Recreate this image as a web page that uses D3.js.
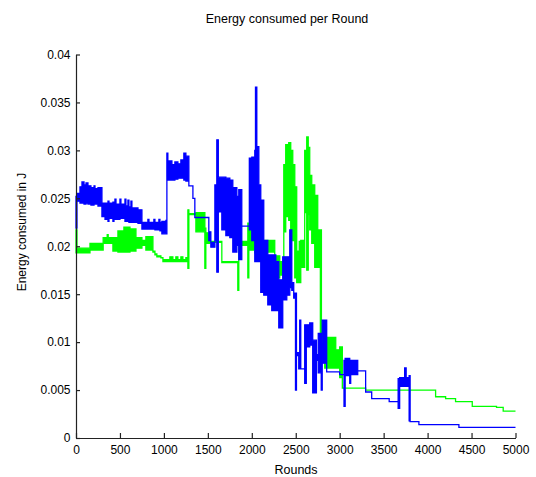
<!DOCTYPE html>
<html>
<head>
<meta charset="utf-8">
<script src="https://cdn.jsdelivr.net/npm/d3@7"></script>
<style>
  body { margin: 0; background: #fff; }
  text { font-family: "Liberation Sans", Arial, sans-serif; fill: #000; }
</style>
</head>
<body>
<svg id="chart" width="536" height="477"></svg>
<script>
// Per-round energy, sampled as [round, min, max] buckets (step-after).
const blueRounds = [0, 11, 45, 68, 91, 114, 136, 170, 205, 216, 250,
  295, 330, 364, 375, 420, 432, 443, 455, 500, 511, 557, 568, 591, 602, 625, 636, 705,
  750, 818, 830, 886, 898, 943, 955, 977, 1023,
  1034, 1045, 1091, 1125, 1159, 1193, 1227, 1250,
  1284, 1330, 1352, 1511, 1534, 1580, 1602, 1619, 1659, 1705, 1750, 1784,
  1830, 1852, 1886, 1972, 2000, 2034, 2042, 2057, 2080, 2102, 2136, 2182, 2227, 2273, 2307, 2352, 2398, 2432,
  2455, 2477, 2497, 2508, 2534, 2545, 2557, 2602, 2620, 2659, 2693, 2735, 2756, 2790, 2801, 2852, 3000, 3049,
  3062, 3114, 3125, 3205, 3295, 3364, 3563, 3665, 3682, 3739, 3756, 3790, 3801, 3901, 4356, 5000];
const blueHigh = [0.0252, 0.0255, 0.0262, 0.0267, 0.0264, 0.0266, 0.0263, 0.0261, 0.0263, 0.0260, 0.0261,
  0.0245, 0.0245, 0.0247, 0.0245, 0.0246, 0.0245, 0.0249, 0.0244, 0.0249, 0.0244, 0.0249, 0.0242, 0.0248,
  0.0241, 0.0247, 0.0240, 0.0238,
  0.0225, 0.0228, 0.0225, 0.0228, 0.0225, 0.0228, 0.0225, 0.0226, 0.0227,
  0.0297, 0.0289, 0.0285, 0.0288, 0.0286, 0.0290, 0.0297, 0.0294,
  0.0263, 0.0250, 0.0230, 0.0215, 0.0204, 0.0264, 0.0311,
  0.0272, 0.0272, 0.0271, 0.0269, 0.0261, 0.0252, 0.0259, 0.0221, 0.0292, 0.0293, 0.0300, 0.0366, 0.0304,
  0.0264, 0.0248, 0.0206, 0.0191, 0.0191, 0.0184, 0.0165, 0.0189, 0.0189, 0.0217, 0.0162, 0.0151, 0.0151,
  0.0089, 0.0072, 0.0123, 0.0072, 0.0118, 0.0118, 0.0120, 0.0102, 0.0087, 0.0109, 0.0099, 0.0123, 0.0069,
  0.0066, 0.0081, 0.0083, 0.0081, 0.0081, 0.0070, 0.0048, 0.0041, 0.0038, 0.0062, 0.0063, 0.0073, 0.0063,
  0.0065, 0.0017, 0.0014, 0.0011, 0.0011];
const blueLow = [0.0219, 0.0247, 0.0245, 0.0245, 0.0244, 0.0245, 0.0244, 0.0243, 0.0244, 0.0244, 0.0242,
  0.0231, 0.0228, 0.0226, 0.0229, 0.0226, 0.0228, 0.0228, 0.0228, 0.0229, 0.0229, 0.0226, 0.0226, 0.0226,
  0.0225, 0.0225, 0.0225, 0.0224,
  0.0218, 0.0218, 0.0218, 0.0218, 0.0217, 0.0217, 0.0216, 0.0213, 0.0213,
  0.0269, 0.0269, 0.0269, 0.0270, 0.0271, 0.0271, 0.0269, 0.0268,
  0.0263, 0.0250, 0.0230, 0.0206, 0.0199, 0.0206, 0.0173,
  0.0236, 0.0217, 0.0211, 0.0209, 0.0194, 0.0201, 0.0186, 0.0221, 0.0217, 0.0206, 0.0184, 0.0184, 0.0184,
  0.0184, 0.0152, 0.0149, 0.0139, 0.0133, 0.0133, 0.0115, 0.0144, 0.0149, 0.0157, 0.0154, 0.0146, 0.0050,
  0.0086, 0.0072, 0.0072, 0.0072, 0.0057, 0.0095, 0.0097, 0.0047, 0.0081, 0.0068, 0.0050, 0.0078, 0.0069,
  0.0066, 0.0033, 0.0065, 0.0057, 0.0066, 0.0070, 0.0048, 0.0041, 0.0038, 0.0031, 0.0054, 0.0054, 0.0054,
  0.0018, 0.0017, 0.0014, 0.0011, 0.0011];

const greenRounds = [0, 11, 159, 309, 355, 366, 420, 477, 545, 614, 682, 750, 795, 875, 898, 920, 966, 989, 1068,
  1102, 1136, 1159, 1193, 1216, 1250, 1273, 1284, 1364, 1466, 1477, 1523, 1659, 1841, 1852, 1955, 1966, 2034,
  2114, 2261, 2318, 2364, 2386, 2420, 2443, 2466, 2489, 2511, 2540, 2557, 2602, 2625, 2642, 2659, 2682, 2716,
  2750, 2780, 2792, 2830, 2955, 3000, 3030, 3295, 4091, 4205, 4318, 4508, 4784, 4860, 5000];
const greenHigh = [0.0217, 0.0198, 0.0203, 0.0209, 0.0212, 0.0209, 0.0209, 0.0216, 0.0220, 0.0218, 0.0209,
  0.0206, 0.0210, 0.0195, 0.0192, 0.0190, 0.0188, 0.0186, 0.0189, 0.0186, 0.0189, 0.0186, 0.0189, 0.0186,
  0.0188, 0.0238, 0.0234, 0.0235, 0.0219, 0.0214, 0.0205, 0.0184, 0.0184, 0.0205, 0.0224, 0.0224, 0.0214,
  0.0206, 0.0190, 0.0184, 0.0285, 0.0306, 0.0308, 0.0300, 0.0285, 0.0262, 0.0195, 0.0205, 0.0206, 0.0300,
  0.0314, 0.0303, 0.0274, 0.0264, 0.0253, 0.0217, 0.0217, 0.0118, 0.0105, 0.0092, 0.0095, 0.0052, 0.0050,
  0.0043, 0.0041, 0.0038, 0.0033, 0.0032, 0.0028, 0.0028];
const greenLow = [0.0193, 0.0193, 0.0196, 0.0203, 0.0203, 0.0203, 0.0195, 0.0194, 0.0194, 0.0195, 0.0198,
  0.0201, 0.0196, 0.0194, 0.0191, 0.0189, 0.0188, 0.0184, 0.0184, 0.0184, 0.0184, 0.0184, 0.0184, 0.0184,
  0.0184, 0.0177, 0.0233, 0.0215, 0.0177, 0.0203, 0.0204, 0.0183, 0.0154, 0.0201, 0.0167, 0.0196, 0.0193,
  0.0194, 0.0167, 0.0170, 0.0215, 0.0231, 0.0227, 0.0206, 0.0206, 0.0167, 0.0162, 0.0162, 0.0178, 0.0235,
  0.0175, 0.0233, 0.0217, 0.0203, 0.0178, 0.0178, 0.0092, 0.0092, 0.0073, 0.0073, 0.0063, 0.0052, 0.0050,
  0.0043, 0.0041, 0.0038, 0.0033, 0.0032, 0.0028, 0.0028];

const xTicks = [0, 500, 1000, 1500, 2000, 2500, 3000, 3500, 4000, 4500, 5000];
const yTicks = [0, 0.005, 0.01, 0.015, 0.02, 0.025, 0.03, 0.035, 0.04];
const yTickLabels = ["0", "0.005", "0.01", "0.015", "0.02", "0.025", "0.03", "0.035", "0.04"];

const svg = d3.select("#chart");
const x = d3.scaleLinear().domain([0, 5000]).range([76, 515.5]);
const y = d3.scaleLinear().domain([0, 0.04]).range([438, 54.5]);

const toRows = (r, lo, hi) => r.map((d, i) => ({ r: d, lo: lo[i], hi: hi[i] }));
const band = d3.area()
  .x(d => x(d.r))
  .y0(d => y(d.lo))
  .y1(d => y(d.hi))
  .curve(d3.curveStepAfter);

const series = [
  { rows: toRows(greenRounds, greenLow, greenHigh), color: "#00ff00" },
  { rows: toRows(blueRounds, blueLow, blueHigh), color: "#0000ff" }
];

svg.append("g").selectAll("path")
  .data(series)
  .join("path")
  .attr("d", s => band(s.rows))
  .attr("fill", s => s.color)
  .attr("stroke", s => s.color)
  .attr("stroke-width", 1.3)
  .attr("stroke-linejoin", "miter");

// Axes: MATLAB style, inward ticks, left and bottom only
const xAxis = svg.append("g")
  .attr("transform", `translate(0,${y(0)})`)
  .call(d3.axisBottom(x).tickValues(xTicks).tickSize(-5).tickSizeOuter(0).tickPadding(7).tickFormat(d3.format("d")));
const yAxis = svg.append("g")
  .attr("transform", `translate(${x(0)},0)`)
  .call(d3.axisLeft(y).tickValues(yTicks).tickSize(-4).tickSizeOuter(0).tickPadding(5.5)
    .tickFormat((d, i) => yTickLabels[i]));

[xAxis, yAxis].forEach(g => {
  g.select(".domain").attr("stroke", "#222").attr("stroke-width", 1.2);
  g.selectAll(".tick line").attr("stroke", "#222").attr("stroke-width", 1.2);
  g.selectAll(".tick text").attr("font-size", 12).attr("fill", "#111")
    .attr("font-family", "'Liberation Sans', Arial, sans-serif");
});

svg.append("text")
  .attr("x", 287).attr("y", 22.5)
  .attr("text-anchor", "middle").attr("font-size", 12.5)
  .text("Energy consumed per Round");

svg.append("text")
  .attr("x", 296).attr("y", 474)
  .attr("text-anchor", "middle").attr("font-size", 12.5)
  .text("Rounds");

svg.append("text")
  .attr("transform", "translate(26,232) rotate(-90)")
  .attr("text-anchor", "middle").attr("font-size", 12)
  .text("Energy consumed in J");
</script>
</body>
</html>
